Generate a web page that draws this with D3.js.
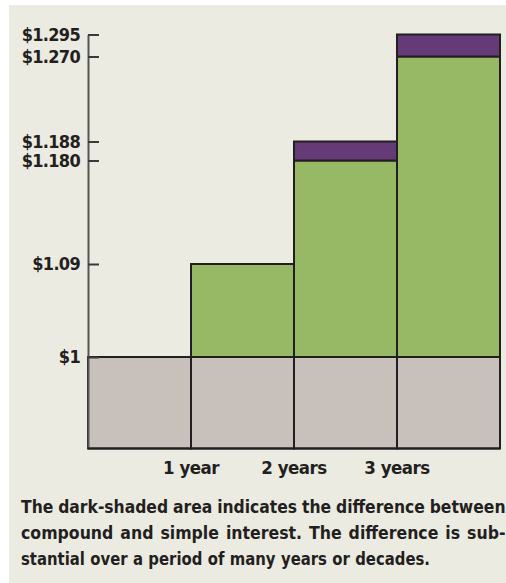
<!DOCTYPE html>
<html>
<head>
<meta charset="utf-8">
<script src="https://cdn.jsdelivr.net/npm/d3@7"></script>
<style>
  html, body { margin: 0; padding: 0; background: #ffffff; }
  svg { display: block; }
  text { font-family: "DejaVu Sans Condensed", "DejaVu Sans", sans-serif; font-stretch: condensed; font-weight: bold; fill: #231f20; }
</style>
</head>
<body>
<svg id="chart" width="506" height="583"></svg>
<script>
// ---- data ----
const columns = [0, 1, 2, 3];                    // year columns (column i spans year i..i+1)
const principal = [1, 1, 1, 1];                  // $1 principal
const simpleValues = [null, 1.09, 1.18, 1.27];   // simple interest totals
const compoundValues = [null, 1.09, 1.188, 1.295]; // compound interest totals
const xTickValues = [1, 2, 3];
const xTickLabels = ["1 year", "2 years", "3 years"];
const yTickValues = [1, 1.09, 1.18, 1.188, 1.27, 1.295];
const yTickLabels = ["$1", "$1.09", "$1.180", "$1.188", "$1.270", "$1.295"];
const captionLines = [
  "The dark-shaded area indicates the difference between",
  "compound and simple interest. The difference is sub-",
  "stantial over a period of many years or decades."
];

// ---- layout ----
const FONT = "'DejaVu Sans Condensed', 'DejaVu Sans', sans-serif";
const svg = d3.select("#chart");
const colors = { bg: "#ecebe1", grey: "#c8c0bb", green: "#97b966", purple: "#643a77", stroke: "#231f20", axis: "#555555" };

svg.append("rect").attr("x", 9).attr("y", 5).attr("width", 497).attr("height", 578).attr("fill", colors.bg);

const x = d3.scaleLinear().domain([0, 4]).range([88, 500]);
// schematic (non-uniform) value axis, as in the original illustration
const y = d3.scaleLinear()
  .domain([0, 1, 1.09, 1.18, 1.188, 1.27, 1.295])
  .range([448.5, 357, 264, 160.5, 141.5, 56.5, 34.5]);

const bars = svg.append("g");
bars.selectAll("rect.base").data(columns).join("rect")
  .attr("class", "base")
  .attr("x", d => x(d)).attr("width", d => x(d + 1) - x(d))
  .attr("y", d => y(principal[d])).attr("height", d => y(0) - y(principal[d]))
  .attr("fill", colors.grey).attr("stroke", colors.stroke).attr("stroke-width", 2);
bars.selectAll("rect.simple").data(columns.filter(d => simpleValues[d] != null)).join("rect")
  .attr("class", "simple")
  .attr("x", d => x(d)).attr("width", d => x(d + 1) - x(d))
  .attr("y", d => y(simpleValues[d])).attr("height", d => y(principal[d]) - y(simpleValues[d]))
  .attr("fill", colors.green).attr("stroke", colors.stroke).attr("stroke-width", 2);
bars.selectAll("rect.compound").data(columns.filter(d => compoundValues[d] != null && compoundValues[d] > simpleValues[d])).join("rect")
  .attr("class", "compound")
  .attr("x", d => x(d)).attr("width", d => x(d + 1) - x(d))
  .attr("y", d => y(compoundValues[d])).attr("height", d => y(simpleValues[d]) - y(compoundValues[d]))
  .attr("fill", colors.purple).attr("stroke", colors.stroke).attr("stroke-width", 2);

// y axis
const yAxis = d3.axisLeft(y).tickValues(yTickValues)
  .tickFormat((d, i) => yTickLabels[i])
  .tickSizeInner(-11).tickSizeOuter(0).tickPadding(8);
const gy = svg.append("g").attr("transform", `translate(${x(0)},0)`).call(yAxis);
gy.select(".domain").attr("stroke", colors.axis).attr("stroke-width", 2);
gy.selectAll(".tick line").attr("stroke", "#3a3a3a").attr("stroke-width", 2);
gy.selectAll(".tick text")
  .attr("font-family", FONT).attr("font-weight", "bold").attr("font-size", 18)
  .attr("fill", colors.stroke).attr("letter-spacing", -0.7);
svg.append("line").attr("x1", x(0)).attr("x2", x(4)).attr("y1", y(0)).attr("y2", y(0))
  .attr("stroke", colors.stroke).attr("stroke-width", 2);

// x labels (end of each year, at column boundaries)
svg.append("g").selectAll("text").data(xTickValues).join("text")
  .attr("x", d => x(d)).attr("y", 474)
  .attr("text-anchor", "middle").attr("font-size", 18.5).attr("letter-spacing", -0.5)
  .text((d, i) => xTickLabels[i]);

// caption, justified
const capLeft = 21, capRight = 505.5;
const capBaselines = [513, 539, 564.5];
const capSize = 17.5;
captionLines.forEach((line, li) => {
  const words = line.split(" ");
  const g = svg.append("g");
  const ts = words.map(w => g.append("text").attr("font-size", capSize).attr("y", capBaselines[li]).text(w));
  const widths = ts.map(t => t.node().getComputedTextLength());
  const total = d3.sum(widths);
  const justify = li < captionLines.length - 1;
  const spaceW = capSize * 0.28;
  let gap = justify ? (capRight - capLeft - total) / (words.length - 1) : spaceW * 1.1;
  let scale = 1;
  if (justify && gap < spaceW) { gap = spaceW; scale = (capRight - capLeft - gap * (words.length - 1)) / total; }
  if (!justify) { scale = (430 - capLeft - gap * (words.length - 1)) / total; }
  let cx = capLeft;
  ts.forEach((t, i) => {
    const w = widths[i] * scale;
    t.attr("x", cx);
    if (scale !== 1) t.attr("textLength", w).attr("lengthAdjust", "spacingAndGlyphs");
    cx += w + gap;
  });
});
</script>
</body>
</html>
